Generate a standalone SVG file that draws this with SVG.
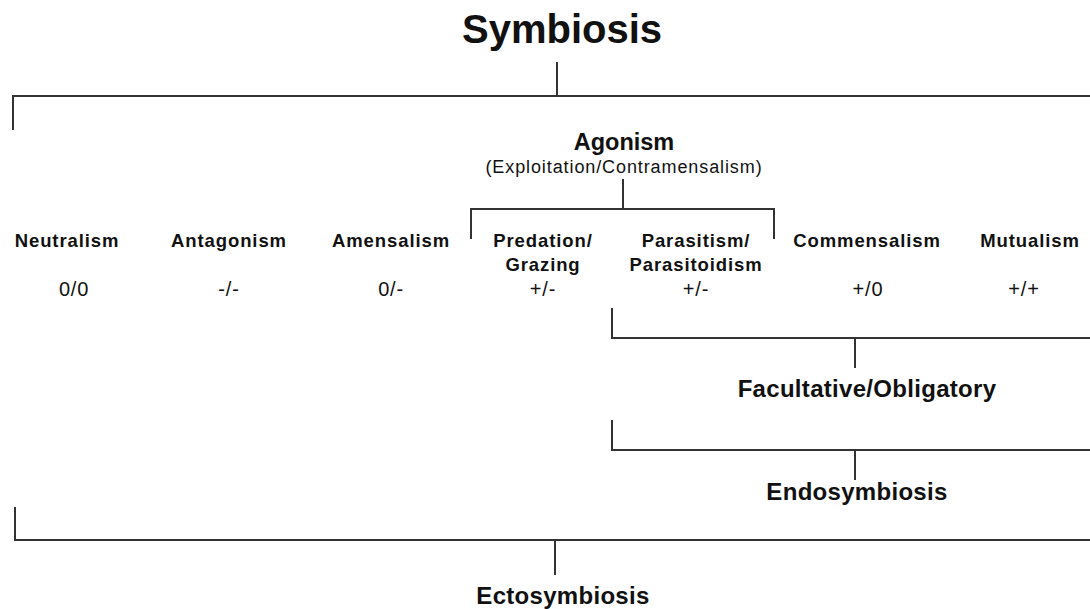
<svg xmlns="http://www.w3.org/2000/svg" width="1090" height="609" viewBox="0 0 1090 609">
<style>
text{font-family:"Liberation Sans",Arial,sans-serif;fill:#111;text-anchor:middle}
.title{font-size:40px;font-weight:bold}
.h2{font-size:23.5px;font-weight:bold}
.sub{font-size:18px;letter-spacing:0.9px}
.lbl{font-size:18.5px;font-weight:bold;letter-spacing:0.9px}
.val{font-size:20px;letter-spacing:0.8px}
.big{font-size:24px;font-weight:bold;letter-spacing:0.3px}
.ln{stroke:#333;stroke-width:2;fill:none}
</style>
<rect width="1090" height="609" fill="#fff"/>
<g id="connectors">
<path class="ln" d="M557,62V96M13,130V96H1090"/>
<path class="ln" d="M623,179V209M471,239V209H774V239"/>
<path class="ln" d="M612,308V338H1090M855,338V368"/>
<path class="ln" d="M612,420V450H1090M855,450V480"/>
<path class="ln" d="M15,507V540H1090M555,540V575"/>
</g>
<g id="symbiosis"><text class="title" x="562" y="43">Symbiosis</text></g>
<g id="agonism"><text class="h2" x="624" y="150">Agonism</text><text class="sub" x="624" y="173">(Exploitation/Contramensalism)</text></g>
<g id="neutralism"><text class="lbl" x="67" y="247">Neutralism</text><text class="val" x="74" y="296">0/0</text></g>
<g id="antagonism"><text class="lbl" x="229" y="247">Antagonism</text><text class="val" x="229" y="296">-/-</text></g>
<g id="amensalism"><text class="lbl" x="391" y="247">Amensalism</text><text class="val" x="391" y="296">0/-</text></g>
<g id="predation"><text class="lbl" x="543" y="247">Predation/</text><text class="lbl" x="543" y="271">Grazing</text><text class="val" x="543" y="296">+/-</text></g>
<g id="parasitism"><text class="lbl" x="696" y="247">Parasitism/</text><text class="lbl" x="696" y="271">Parasitoidism</text><text class="val" x="696" y="296">+/-</text></g>
<g id="commensalism"><text class="lbl" x="867" y="247">Commensalism</text><text class="val" x="868" y="296">+/0</text></g>
<g id="mutualism"><text class="lbl" x="1030" y="247">Mutualism</text><text class="val" x="1024" y="296">+/+</text></g>
<g id="facultative"><text class="big" x="867" y="397">Facultative/Obligatory</text></g>
<g id="endosymbiosis"><text class="big" x="857" y="500">Endosymbiosis</text></g>
<g id="ectosymbiosis"><text class="big" x="563" y="604">Ectosymbiosis</text></g>
</svg>
